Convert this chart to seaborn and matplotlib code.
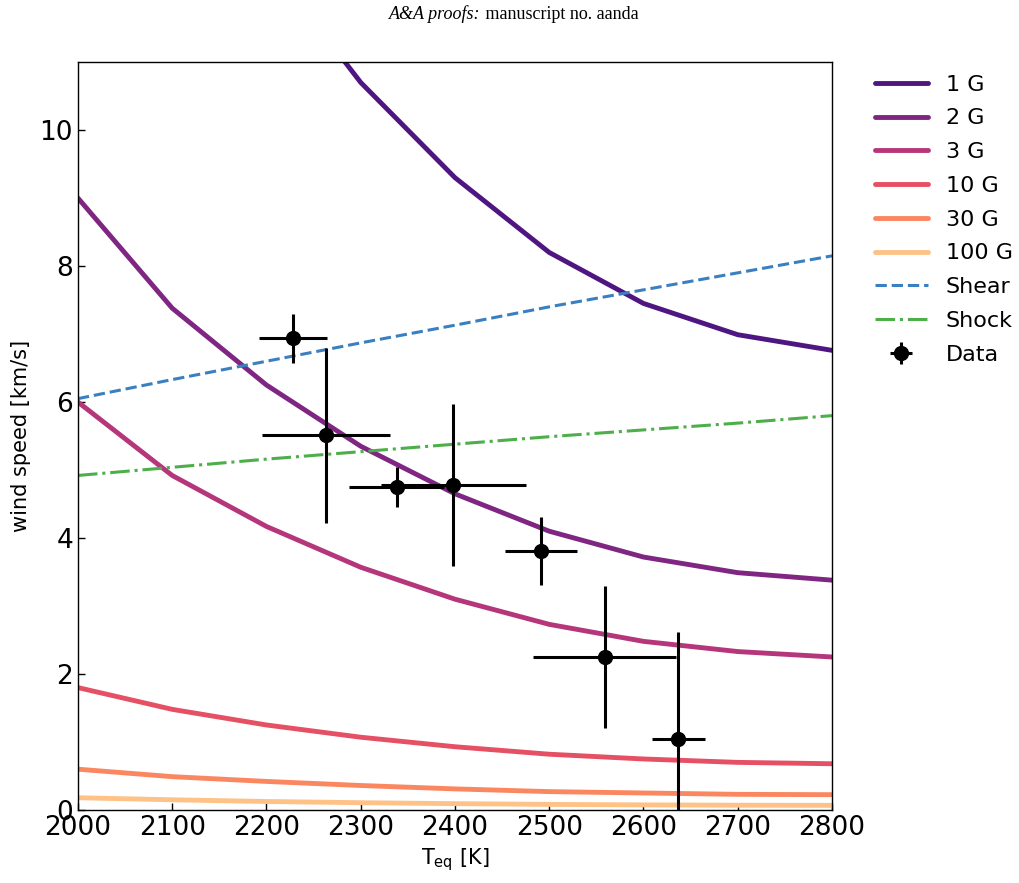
import numpy as np
import pandas as pd
import matplotlib
matplotlib.use("Agg")
import matplotlib.pyplot as plt
import seaborn as sns

# ---- data ----
teq = [2000, 2100, 2200, 2300, 2400, 2500, 2600, 2700, 2800]
v_1G = [18.0, 14.75, 12.5, 10.7, 9.3, 8.2, 7.45, 6.99, 6.76]
v_2G = [9.0, 7.38, 6.25, 5.35, 4.65, 4.1, 3.72, 3.49, 3.38]
v_3G = [6.0, 4.92, 4.17, 3.57, 3.1, 2.73, 2.48, 2.33, 2.25]
v_10G = [1.8, 1.48, 1.25, 1.07, 0.93, 0.82, 0.75, 0.70, 0.68]
v_30G = [0.6, 0.49, 0.42, 0.36, 0.31, 0.27, 0.25, 0.23, 0.225]
v_100G = [0.18, 0.15, 0.125, 0.107, 0.093, 0.082, 0.075, 0.07, 0.068]
field_labels = ["1 G", "2 G", "3 G", "10 G", "30 G", "100 G"]
field_colors = ["#4f1682", "#7f2582", "#b5367a", "#e55064", "#fb8761", "#fec287"]

shear = [6.05, 6.33, 6.6, 6.87, 7.13, 7.4, 7.65, 7.9, 8.15]
shock = [4.92, 5.04, 5.16, 5.27, 5.38, 5.49, 5.59, 5.69, 5.8]

data_T = [2228, 2263, 2338, 2398, 2491, 2559, 2637]
data_T_err = [36, 68, 50, 77, 38, 76, 28]
data_v = [6.94, 5.51, 4.75, 4.78, 3.81, 2.25, 1.04]
data_v_err = [0.36, 1.29, 0.29, 1.19, 0.50, 1.04, 1.58]

# ---- plotting ----
sns.set_style("white")
plt.rcParams["font.family"] = ["DejaVu Sans"]
plt.rcParams["text.color"] = "black"
plt.rcParams["axes.labelcolor"] = "black"

fig = plt.figure(figsize=(10.19, 8.83), dpi=100)
ax = fig.add_axes([0.0765, 0.0827, 0.74, 0.847])

series = [v_1G, v_2G, v_3G, v_10G, v_30G, v_100G]
for lab, col, vals in zip(field_labels, field_colors, series):
    sns.lineplot(x=teq, y=vals, ax=ax, color=col, lw=3.5, label=lab)

sns.lineplot(x=teq, y=shear, ax=ax, color="#3a80c0", lw=2.2, ls="--", label="Shear")
sns.lineplot(x=teq, y=shock, ax=ax, color="#4daf4a", lw=2.2, ls="-.", label="Shock")

ax.errorbar(data_T, data_v, xerr=data_T_err, yerr=data_v_err, fmt="o",
            color="black", ms=10, elinewidth=2.2, capsize=0, label="Data")

ax.set_xlim(2000, 2800)
ax.set_ylim(0, 11)
ax.set_xticks([2000, 2100, 2200, 2300, 2400, 2500, 2600, 2700, 2800])
ax.set_yticks([0, 2, 4, 6, 8, 10])
ax.tick_params(direction="in", labelsize=19, length=5, width=1,
               bottom=True, left=True, colors="black")
for s in ax.spines.values():
    s.set_color("black")
    s.set_linewidth(1.0)

ax.set_xlabel(r"T$_{\rm eq}$ [K]", fontsize=15, color="black")
ax.set_ylabel("wind speed [km/s]", fontsize=15, color="black", labelpad=6)

leg = ax.legend(loc="upper left", bbox_to_anchor=(1.03, 1.01), frameon=False,
                fontsize=16, handlelength=2.4, labelspacing=0.62)
for t in leg.get_texts():
    t.set_color("black")

# header
fig.text(0.472, 0.984, "A&A proofs:", ha="right", va="center", fontsize=13,
         family=["Liberation Serif"], style="italic")
fig.text(0.472, 0.984, " manuscript no. aanda", ha="left", va="center",
         fontsize=13, family=["Liberation Serif"])

fig.savefig("out.png", dpi=100)
